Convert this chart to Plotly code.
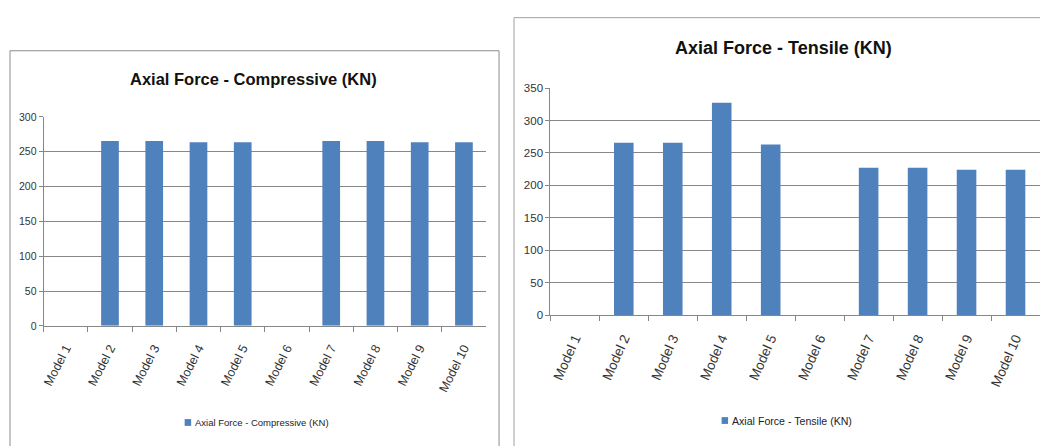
import plotly.graph_objects as go

# Data
models = ["Model 1", "Model 2", "Model 3", "Model 4", "Model 5",
          "Model 6", "Model 7", "Model 8", "Model 9", "Model 10"]
compressive_kn = [0, 265.5, 265.5, 263.5, 263.5, 0, 265.5, 265.5, 263.5, 263.5]
tensile_kn = [0, 265.5, 265.5, 327.5, 263, 0, 227, 227, 224, 224]

comp_title = "Axial Force - Compressive (KN)"
tens_title = "Axial Force - Tensile (KN)"

W, H = 1040, 446
BAR = "#4F81BD"
GRID = "#878787"
FONT = "Liberation Sans, Arial, sans-serif"


def px_x(x):
    return x / W


def px_y(y):
    return (H - y) / H


fig = go.Figure()
fig.add_trace(go.Bar(x=models, y=compressive_kn, name=comp_title,
                     marker=dict(color=BAR, line=dict(width=0)),
                     xaxis="x", yaxis="y", showlegend=False))
fig.add_trace(go.Bar(x=models, y=tensile_kn, name=tens_title,
                     marker=dict(color=BAR, line=dict(width=0)),
                     xaxis="x2", yaxis="y2", showlegend=False))


def xaxis_style(size, angle):
    return dict(type="category", showline=True, linecolor=GRID, linewidth=1,
                ticks="outside", tickson="boundaries", ticklen=5,
                tickcolor=GRID, showgrid=False, tickangle=angle,
                ticklabelstandoff=9,
                tickfont=dict(family=FONT, size=size, color="#333"))


def yaxis_style(size, top):
    return dict(range=[0, top], dtick=50, showgrid=True, gridcolor=GRID,
                gridwidth=1, showline=True, linecolor=GRID, linewidth=1,
                ticks="outside", ticklen=4, tickcolor=GRID, zeroline=False,
                tickfont=dict(family=FONT, size=size, color="#333"))


fig.update_layout(
    width=W, height=H,
    margin=dict(l=0, r=0, t=0, b=0),
    paper_bgcolor="white", plot_bgcolor="white",
    bargap=0.6,
    xaxis=dict(domain=[px_x(41.7), px_x(485)], anchor="y", **xaxis_style(12.5, -63)),
    yaxis=dict(domain=[px_y(328.7), px_y(114)], anchor="x", **yaxis_style(10.5, 300)),
    xaxis2=dict(domain=[px_x(549.4), 1.0], anchor="y2", **xaxis_style(13.5, -66)),
    yaxis2=dict(domain=[px_y(317.7), px_y(84.3)], anchor="x2", **yaxis_style(11.5, 350)),
)

# Chart frames
fig.add_shape(type="rect", xref="paper", yref="paper",
              x0=px_x(8), x1=px_x(498), y0=-0.05, y1=px_y(46),
              line=dict(color="#8c8c8c", width=1), fillcolor="rgba(0,0,0,0)")
fig.add_shape(type="rect", xref="paper", yref="paper",
              x0=px_x(513), x1=1.05, y0=-0.05, y1=px_y(12),
              line=dict(color="#a0a0a0", width=1), fillcolor="rgba(0,0,0,0)")

# Titles
fig.add_annotation(text="<b>" + comp_title + "</b>", xref="paper", yref="paper",
                   x=px_x(252), y=px_y(75), showarrow=False,
                   xanchor="center", yanchor="middle",
                   font=dict(family=FONT, size=16.5, color="#111"))
fig.add_annotation(text="<b>" + tens_title + "</b>", xref="paper", yref="paper",
                   x=px_x(783), y=px_y(43), showarrow=False,
                   xanchor="center", yanchor="middle",
                   font=dict(family=FONT, size=18, color="#111"))

# Legend keys
for (sx, sy, label, size) in [(183, 428, comp_title, 9.5), (721, 426, tens_title, 10.6)]:
    fig.add_shape(type="rect", xref="paper", yref="paper",
                  x0=px_x(sx), x1=px_x(sx + 6.5), y0=px_y(sy + 3.5), y1=px_y(sy - 3.5),
                  line=dict(width=0), fillcolor=BAR)
    fig.add_annotation(text=label, xref="paper", yref="paper",
                       x=px_x(sx + 8), y=px_y(sy), showarrow=False,
                       xanchor="left", yanchor="middle",
                       font=dict(family=FONT, size=size, color="#222"))

fig.write_html("out.html")
